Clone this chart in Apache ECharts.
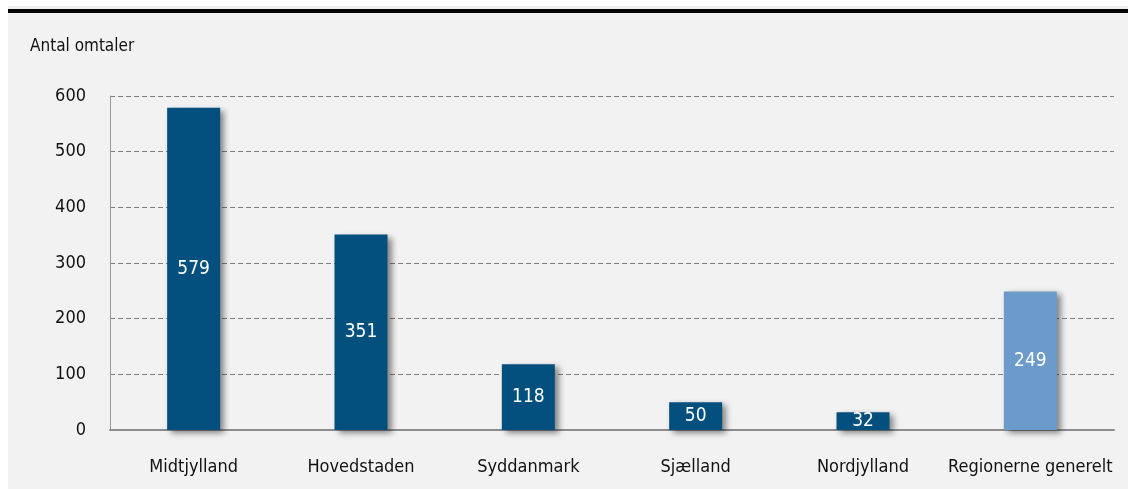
<!DOCTYPE html>
<html>
<head>
<meta charset="utf-8">
<script src="https://cdn.jsdelivr.net/npm/echarts@6/dist/echarts.min.js"></script>
<style>
  body { margin: 0; background: #ffffff; }
  #chart { width: 1128px; height: 489px; }
</style>
</head>
<body>
<div id="chart"></div>
<script>
// regioner og antal omtaler
var regions = ['Midtjylland', 'Hovedstaden', 'Syddanmark', 'Sjælland', 'Nordjylland', 'Regionerne generelt'];
var counts = [579, 351, 118, 50, 32, 249];
var barColors = ['#034f7e', '#034f7e', '#034f7e', '#034f7e', '#034f7e', '#6b9bcb'];
var yTicks = [0, 100, 200, 300, 400, 500, 600];

var font = '"Liberation Sans Narrow", "DejaVu Sans Condensed", sans-serif';

var myChart = echarts.init(document.getElementById('chart'));
myChart.setOption({
  backgroundColor: '#ffffff',
  textStyle: { fontFamily: font },
  graphic: [
    { type: 'rect', shape: { x: 8, y: 6, width: 1120, height: 483 }, style: { fill: '#f2f2f2' }, z: -10 },
    { type: 'rect', shape: { x: 8, y: 9, width: 1120, height: 4 }, style: { fill: '#000000' }, z: -9 },
    { type: 'text', left: 30, top: 38, style: { text: 'Antal omtaler', font: '17px ' + font, fill: '#111111' } }
  ],
  grid: { left: 110, right: 14, top: 96, bottom: 59 },
  xAxis: {
    type: 'category',
    data: regions,
    axisLine: { lineStyle: { color: '#8c8c8c', width: 2 } },
    axisTick: { show: false },
    axisLabel: { interval: 0, color: '#111111', fontSize: 18, fontFamily: font, margin: 28 }
  },
  yAxis: {
    type: 'value',
    min: yTicks[0],
    max: yTicks[yTicks.length - 1],
    interval: 100,
    axisLine: { show: true, lineStyle: { color: '#9a9a9a', width: 1 } },
    axisTick: { show: false },
    axisLabel: { color: '#111111', fontSize: 18, fontFamily: font, margin: 24 },
    splitLine: { lineStyle: { color: '#808080', type: [5, 3], width: 1 } }
  },
  series: [
    {
      type: 'bar',
      data: counts.map(function (v, i) {
        return { value: v, itemStyle: { color: barColors[i] } };
      }),
      barWidth: 53,
      itemStyle: {
        shadowColor: 'rgba(0,0,0,0.45)',
        shadowBlur: 6,
        shadowOffsetX: 4,
        shadowOffsetY: 3
      },
      label: {
        show: true,
        position: 'inside',
        color: '#ffffff',
        fontSize: 19,
        fontFamily: font
      }
    }
  ]
});
</script>
</body>
</html>
